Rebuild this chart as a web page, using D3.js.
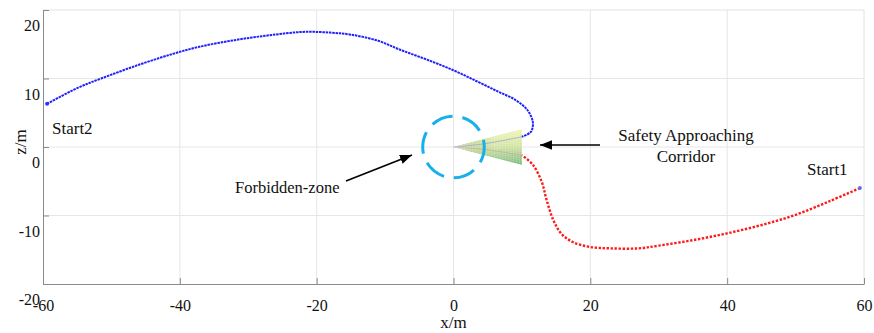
<!DOCTYPE html>
<html>
<head>
<meta charset="utf-8">
<script src="https://cdn.jsdelivr.net/npm/d3@7"></script>
<style>
  body { margin: 0; background: #fff; }
  text { font-family: "Liberation Serif", "Times New Roman", serif; fill: #111; }
</style>
</head>
<body>
<script>
var width = 874, height = 333;

// trajectory from Start2 (blue), x/m and z/m
var start2X = [-59.4, -55, -51.5, -46, -41, -37.3, -32, -27, -22, -18, -15, -11, -7.8, -4, 0, 3.4, 6.5, 9.0, 10.8, 11.6, 11.3, 10];
var start2Z = [6.3, 8.6, 10.0, 12.0, 13.6, 14.6, 15.6, 16.3, 16.8, 16.7, 16.4, 15.5, 14.2, 12.8, 11.2, 9.6, 8.1, 6.9, 5.4, 3.6, 2.2, 1.5];

// trajectory from Start1 (red)
var start1X = [59.4, 55, 50, 45, 40, 35, 30, 27, 23, 20, 17.5, 15.8, 14.6, 13.6, 12.9, 11.6, 10];
var start1Z = [-6.0, -7.9, -9.9, -11.4, -12.6, -13.6, -14.4, -14.8, -14.8, -14.6, -13.9, -12.7, -10.7, -7.7, -5.1, -2.6, -1.2];

// faint continuation of both paths inside the corridor
var innerBlueX = [10, 7, 4, 0], innerBlueZ = [1.5, 0.9, 0.4, 0];
var innerRedX = [10, 7, 4, 0], innerRedZ = [-1.2, -0.7, -0.3, 0];

// corridor cone (apex at origin) and forbidden zone
var coneLength = 10, coneHalf = 2.6;
var zoneRadius = 4.5;

var xTicks = [-60, -40, -20, 0, 20, 40, 60];
var zTicks = [-20, -10, 0, 10, 20];

var mLeft = 43, mRight = 864, mTop = 10, mBottom = 284;

var x = d3.scaleLinear().domain([-60, 60]).range([mLeft, mRight]);
var y = d3.scaleLinear().domain([-20, 20]).range([mBottom, mTop]);

var svg = d3.select("body").append("svg")
            .attr("width", width)
            .attr("height", height);

// grid
svg.append("g").selectAll("line")
   .data(xTicks.slice(1, -1)).enter().append("line")
   .attr("x1", d => x(d)).attr("x2", d => x(d))
   .attr("y1", mTop).attr("y2", mBottom)
   .attr("stroke", "#e6e6e6").attr("stroke-width", 1);

svg.append("g").selectAll("line")
   .data(zTicks.slice(1, -1)).enter().append("line")
   .attr("x1", mLeft).attr("x2", mRight)
   .attr("y1", d => y(d)).attr("y2", d => y(d))
   .attr("stroke", "#e6e6e6").attr("stroke-width", 1);

// top and right border
svg.append("path")
   .attr("d", "M" + mLeft + "," + mTop + "H" + mRight + "V" + mBottom)
   .attr("fill", "none").attr("stroke", "#e2e2e2");

// axes
var xAxis = svg.append("g")
   .attr("transform", "translate(0," + mBottom + ")")
   .call(d3.axisBottom(x).tickValues(xTicks).tickSize(-6).tickSizeOuter(0).tickFormat(d => String(d)));
xAxis.selectAll("text").attr("y", 16).attr("font-size", 16);

var yAxis = svg.append("g")
   .attr("transform", "translate(" + mLeft + ",0)")
   .call(d3.axisLeft(y).tickValues(zTicks).tickSize(-6).tickSizeOuter(0).tickPadding(3).tickFormat(d => String(d)));
yAxis.selectAll("text").attr("dy", "1.3em").attr("font-size", 16);

svg.selectAll(".domain").attr("stroke", "#8a8a8a");
svg.selectAll(".tick line").attr("stroke", "#8a8a8a");
svg.selectAll(".tick text").attr("font-family", "Liberation Serif").attr("fill", "#111");

svg.append("text")
   .attr("x", x(0)).attr("y", 328)
   .attr("text-anchor", "middle").attr("font-size", 17)
   .text("x/m");

svg.append("text")
   .attr("transform", "translate(26,142) rotate(-90)")
   .attr("text-anchor", "middle").attr("font-size", 17)
   .text("z/m");

// corridor cone
var defs = svg.append("defs");
var grad = defs.append("linearGradient").attr("id", "cone")
   .attr("x1", 0).attr("y1", 0).attr("x2", 0).attr("y2", 1);
grad.append("stop").attr("offset", 0).attr("stop-color", "#f0f4b0");
grad.append("stop").attr("offset", 0.45).attr("stop-color", "#cfe39a");
grad.append("stop").attr("offset", 1).attr("stop-color", "#72b474");

var grad2 = defs.append("linearGradient").attr("id", "coneTip")
   .attr("x1", 0).attr("y1", 0).attr("x2", 1).attr("y2", 0);
grad2.append("stop").attr("offset", 0).attr("stop-color", "#86b34a").attr("stop-opacity", 0.85);
grad2.append("stop").attr("offset", 0.6).attr("stop-color", "#86b34a").attr("stop-opacity", 0);

var conePts = [[0, 0], [coneLength, coneHalf], [coneLength, -coneHalf]];
var coneD = "M" + conePts.map(p => x(p[0]) + "," + y(p[1])).join("L") + "Z";
svg.append("path").attr("d", coneD).attr("fill", "url(#cone)");
svg.append("path").attr("d", coneD).attr("fill", "url(#coneTip)");

// mesh of the cone surface
var mesh = svg.append("g").attr("stroke", "#ffffff").attr("stroke-opacity", 0.4).attr("stroke-width", 0.6);
d3.range(1, 26).forEach(function(i) {
  var cx = coneLength * i / 25, h = coneHalf * i / 25;
  mesh.append("line").attr("x1", x(cx)).attr("x2", x(cx)).attr("y1", y(h)).attr("y2", y(-h));
});
d3.range(1, 16).forEach(function(i) {
  var h = coneHalf - 2 * coneHalf * i / 16;
  mesh.append("line").attr("x1", x(0)).attr("y1", y(0)).attr("x2", x(coneLength)).attr("y2", y(h));
});

var line = d3.line().curve(d3.curveCatmullRom);
var pts = (xs, zs) => xs.map((d, i) => [x(d), y(zs[i])]);

svg.append("path").attr("d", line(pts(innerBlueX, innerBlueZ)))
   .attr("fill", "none").attr("stroke", "#9a9ac8").attr("stroke-width", 1).attr("opacity", 0.7);
svg.append("path").attr("d", line(pts(innerRedX, innerRedZ)))
   .attr("fill", "none").attr("stroke", "#d8a0a0").attr("stroke-width", 1).attr("opacity", 0.7);

// forbidden zone
svg.append("ellipse")
   .attr("cx", x(0)).attr("cy", y(0))
   .attr("rx", x(zoneRadius) - x(0)).attr("ry", y(0) - y(zoneRadius))
   .attr("fill", "none").attr("stroke", "#18b0ea").attr("stroke-width", 3)
   .attr("stroke-dasharray", "22,10").attr("stroke-dashoffset", 6);

// trajectories
svg.append("path").attr("d", line(pts(start2X, start2Z)))
   .attr("fill", "none").attr("stroke", "#2020ff").attr("stroke-width", 2)
   .attr("stroke-dasharray", "2.5,0.8");

svg.append("path").attr("d", line(pts(start1X, start1Z)))
   .attr("fill", "none").attr("stroke", "#ff1a1a").attr("stroke-width", 2.4)
   .attr("stroke-dasharray", "2.4,1.6");

svg.append("circle").attr("cx", x(start1X[0])).attr("cy", y(start1Z[0]))
   .attr("r", 2).attr("fill", "#6a6af0");
svg.append("circle").attr("cx", x(start2X[0])).attr("cy", y(start2Z[0]))
   .attr("r", 2).attr("fill", "#3030ff");

// annotations
defs.append("marker").attr("id", "arrow")
   .attr("viewBox", "0 0 10 10").attr("refX", 10).attr("refY", 5)
   .attr("markerWidth", 12).attr("markerHeight", 12)
   .attr("markerUnits", "userSpaceOnUse").attr("orient", "auto")
   .append("path").attr("d", "M0,1L10,5L0,9Z").attr("fill", "#000");

svg.append("line")
   .attr("x1", 346).attr("y1", 181).attr("x2", 412).attr("y2", 155)
   .attr("stroke", "#000").attr("stroke-width", 1.6).attr("marker-end", "url(#arrow)");
svg.append("line")
   .attr("x1", 600).attr("y1", 145).attr("x2", 540).attr("y2", 145)
   .attr("stroke", "#000").attr("stroke-width", 1.6).attr("marker-end", "url(#arrow)");

svg.append("text").attr("x", 235).attr("y", 193).attr("font-size", 16.5).text("Forbidden-zone");
svg.append("text").attr("x", 686).attr("y", 141).attr("text-anchor", "middle").attr("font-size", 17).text("Safety Approaching");
svg.append("text").attr("x", 686).attr("y", 162).attr("text-anchor", "middle").attr("font-size", 17).text("Corridor");
svg.append("text").attr("x", 807).attr("y", 175).attr("font-size", 17).text("Start1");
svg.append("text").attr("x", 52).attr("y", 134).attr("font-size", 17).text("Start2");
</script>
</body>
</html>
